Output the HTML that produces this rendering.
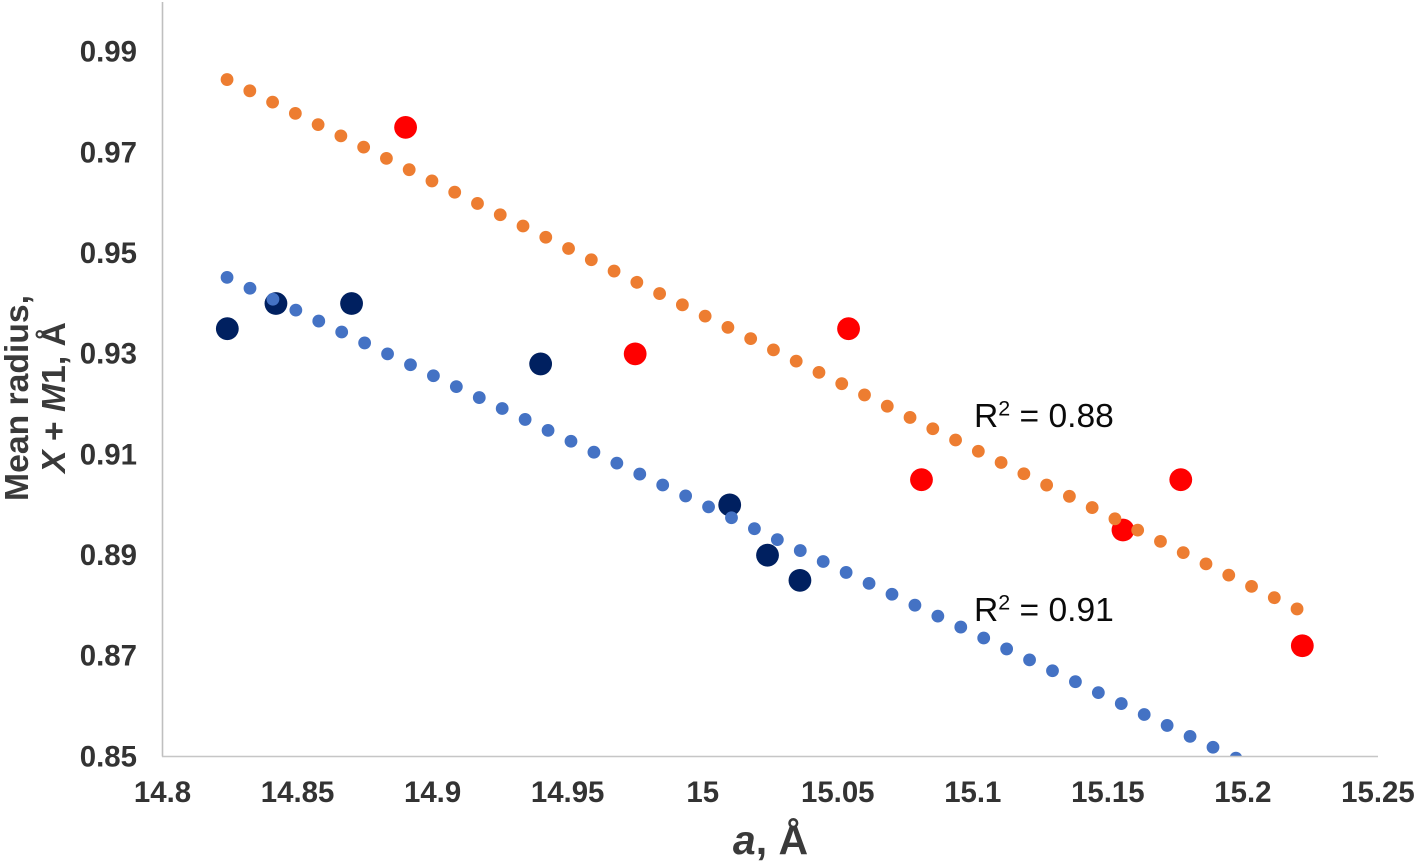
<!DOCTYPE html>
<html lang="en">
<head>
<meta charset="utf-8">
<title>Mean radius vs lattice parameter a</title>
<style>
html,body{margin:0;padding:0;background:#fff;width:1417px;height:864px;overflow:hidden}
svg{display:block;font-family:"Liberation Sans",Arial,sans-serif}
.tick{font-size:29.4px;font-weight:700;fill:#333333}
.title{font-weight:700;fill:#3a3a3a}
.r2{font-size:33.6px;fill:#0a0a0a}
</style>
</head>
<body>
<svg id="chart" xmlns="http://www.w3.org/2000/svg" width="1417" height="864" viewBox="0 0 1417 864">
  <defs>
    <clipPath id="plot-clip"><rect x="162" y="0" width="1216" height="756"></rect></clipPath>
  </defs>
  <rect x="0" y="0" width="1417" height="864" fill="#ffffff"></rect>
  <g id="marks" clip-path="url(#plot-clip)"></g>
  <line x1="162.5" y1="2" x2="162.5" y2="756.5" stroke="#bfbfbf" stroke-width="1.6"></line>
  <line x1="162" y1="756.5" x2="1378" y2="756.5" stroke="#c6c6c6" stroke-width="1.6"></line>
  <g id="x-ticks"></g>
  <g id="y-ticks"></g>
  <text class="title" x="770.5" y="854" text-anchor="middle" font-size="41"><tspan font-style="italic">a</tspan>, Å</text>
  <g class="title" font-size="33.7">
    <text transform="translate(28,398) rotate(-90)" text-anchor="middle">Mean radius,</text>
    <text transform="translate(65,397.5) rotate(-90)" text-anchor="middle"><tspan font-style="italic">X</tspan> + <tspan font-style="italic">M</tspan>1, Å</text>
  </g>
  <text class="r2" x="974" y="427">R<tspan font-size="21.5" dy="-11.5">2</tspan><tspan dy="11.5"> = 0.88</tspan></text>
  <text class="r2" x="974" y="621">R<tspan font-size="21.5" dy="-11.5">2</tspan><tspan dy="11.5"> = 0.91</tspan></text>
</svg>
<script>
var xTickValues = [14.8, 14.85, 14.9, 14.95, 15, 15.05, 15.1, 15.15, 15.2, 15.25];
var xTickLabels = ["14.8", "14.85", "14.9", "14.95", "15", "15.05", "15.1", "15.15", "15.2", "15.25"];
var yTickValues = [0.85, 0.87, 0.89, 0.91, 0.93, 0.95, 0.97, 0.99];
var yTickLabels = ["0.85", "0.87", "0.89", "0.91", "0.93", "0.95", "0.97", "0.99"];

var redX = [14.89, 14.975, 15.054, 15.081, 15.1556, 15.177, 15.222];
var redY = [0.975, 0.93, 0.935, 0.905, 0.895, 0.905, 0.872];
var navyX = [14.824, 14.842, 14.87, 14.94, 15.01, 15.024, 15.036];
var navyY = [0.935, 0.94, 0.94, 0.928, 0.9, 0.89, 0.885];

var orangeTrendX = [14.8239, 15.2205];
var orangeTrendY = [0.9845, 0.8792];
var blueTrendX = [14.8239, 15.2];
var blueTrendY = [0.9452, 0.849];

var SVG_NS = "http://www.w3.org/2000/svg";
function xScale(v) { return 162.5 + (v - 14.8) * 2701; }
function yScale(v) { return 756.5 - (v - 0.85) * 5033; }

var marks = document.getElementById("marks");
var xTickGroup = document.getElementById("x-ticks");
var yTickGroup = document.getElementById("y-ticks");

xTickValues.forEach(function (v, i) {
  var t = document.createElementNS(SVG_NS, "text");
  
  
  t.setAttribute("class", "tick");
  t.setAttribute("x", xScale(v));
  t.setAttribute("y", 802);
  t.setAttribute("text-anchor", "middle");
  t.textContent = xTickLabels[i];
  xTickGroup.appendChild(t);
});

yTickValues.forEach(function (v, i) {
  var t = document.createElementNS(SVG_NS, "text");
  
  
  t.setAttribute("class", "tick");
  t.setAttribute("x", 137);
  t.setAttribute("y", yScale(v) + 9.8);
  t.setAttribute("text-anchor", "end");
  t.textContent = yTickLabels[i];
  yTickGroup.appendChild(t);
});

redX.forEach(function (v, i) {
  var c = document.createElementNS(SVG_NS, "circle");
  
  
  c.setAttribute("cx", xScale(v));
  c.setAttribute("cy", yScale(redY[i]));
  c.setAttribute("r", 11.4);
  c.setAttribute("fill", "#ff0000");
  marks.appendChild(c);
});

navyX.forEach(function (v, i) {
  var c = document.createElementNS(SVG_NS, "circle");
  
  
  c.setAttribute("cx", xScale(v));
  c.setAttribute("cy", yScale(navyY[i]));
  c.setAttribute("r", 11.4);
  c.setAttribute("fill", "#002060");
  marks.appendChild(c);
});

var orangeTrend = document.createElementNS(SVG_NS, "line");


orangeTrend.setAttribute("x1", xScale(orangeTrendX[0]));
orangeTrend.setAttribute("y1", yScale(orangeTrendY[0]));
orangeTrend.setAttribute("x2", xScale(orangeTrendX[1]));
orangeTrend.setAttribute("y2", yScale(orangeTrendY[1]));
orangeTrend.setAttribute("stroke", "#ed7d31");
orangeTrend.setAttribute("stroke-width", "12.8");
orangeTrend.setAttribute("stroke-linecap", "round");
orangeTrend.setAttribute("stroke-dasharray", "0 25.4");
marks.appendChild(orangeTrend);

var blueTrend = document.createElementNS(SVG_NS, "line");


blueTrend.setAttribute("x1", xScale(blueTrendX[0]));
blueTrend.setAttribute("y1", yScale(blueTrendY[0]));
blueTrend.setAttribute("x2", xScale(blueTrendX[1]));
blueTrend.setAttribute("y2", yScale(blueTrendY[1]));
blueTrend.setAttribute("stroke", "#4472c4");
blueTrend.setAttribute("stroke-width", "12.8");
blueTrend.setAttribute("stroke-linecap", "round");
blueTrend.setAttribute("stroke-dasharray", "0 25.4");
marks.appendChild(blueTrend);
</script>
</body>
</html>
